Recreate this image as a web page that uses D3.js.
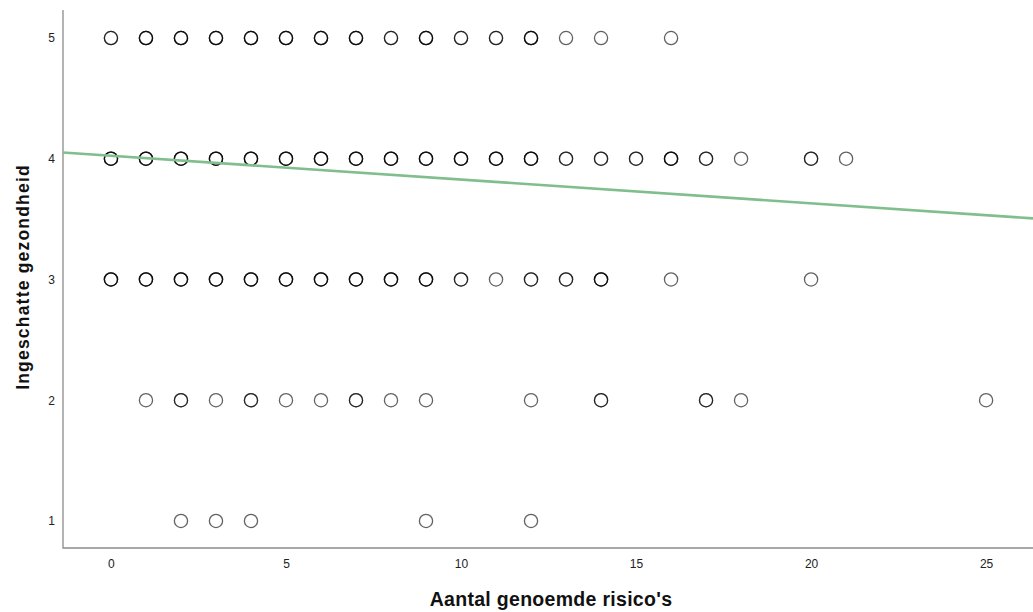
<!DOCTYPE html>
<html><head><meta charset="utf-8">
<script src="https://cdn.jsdelivr.net/npm/d3@7"></script>
<style>body{margin:0;background:#fff}svg{display:block}</style>
</head><body>
<script>
// Observations grouped by y level: x values and number of overlapping cases
const level5X = [0,1,2,3,4,5,6,7,8,9,10,11,12,13,14,16];
const level5N = [2,3,3,3,3,3,3,3,2,3,2,2,3,1,1,1];
const level4X = [0,1,2,3,4,5,6,7,8,9,10,11,12,13,14,15,16,17,18,20,21];
const level4N = [3,3,3,3,3,3,3,3,3,3,3,3,3,2,2,2,3,2,1,2,1];
const level3X = [0,1,2,3,4,5,6,7,8,9,10,11,12,13,14,16,20];
const level3N = [3,3,3,3,3,3,3,3,3,3,2,1,2,2,3,1,1];
const level2X = [1,2,3,4,5,6,7,8,9,12,14,17,18,25];
const level2N = [1,2,1,2,1,1,2,1,1,1,2,2,1,1];
const level1X = [2,3,4,9,12];
const level1N = [1,1,1,1,1];
const xTicks = [0,5,10,15,20,25];
const yTicks = [1,2,3,4,5];
const fitIntercept = 4.025, fitSlope = -0.0197;
const xTitle = "Aantal genoemde risico's";
const yTitle = "Ingeschatte gezondheid";

(function () {
const W = 1033, H = 612;
const mLeft = 63, mRight = 1033, mTop = 10, mBottom = 548;
const x = d3.scaleLinear().domain([-1.37, 26.34]).range([mLeft, mRight]);
const y = d3.scaleLinear().domain([0.776, 5.232]).range([mBottom, mTop]);
const ff = "'Liberation Sans', Arial, sans-serif";

const svg = d3.select("body").append("svg").attr("width", W).attr("height", H)
  .style("font-family", ff);

const levels = [[5, level5X, level5N],[4, level4X, level4N],[3, level3X, level3N],[2, level2X, level2N],[1, level1X, level1N]];
const pts = [];
levels.forEach(([lv, xs, ns]) => xs.forEach((v, i) => { for (let k = 0; k < ns[i]; k++) pts.push({x: v, y: lv}); }));

// axes
const gx = svg.append("g").attr("transform", `translate(0,${mBottom})`)
  .call(d3.axisBottom(x).tickValues(xTicks).tickSize(0).tickPadding(11).tickFormat(d3.format("d")));
gx.select(".domain").remove();
gx.selectAll("text").attr("font-size", 12).attr("fill", "#222").attr("font-family", ff);
const gy = svg.append("g").attr("transform", `translate(${mLeft},0)`)
  .call(d3.axisLeft(y).tickValues(yTicks).tickSize(0).tickPadding(8).tickFormat(d3.format("d")));
gy.select(".domain").remove();
gy.selectAll("text").attr("font-size", 12).attr("fill", "#222").attr("font-family", ff);

svg.append("path").attr("d", `M${mLeft},${mTop}V${mBottom}H${mRight}`)
  .attr("fill", "none").attr("stroke", "#8c8c8c").attr("stroke-width", 1.3);

// points
svg.append("g").selectAll("circle").data(pts).join("circle")
  .attr("cx", d => x(d.x)).attr("cy", d => y(d.y)).attr("r", 6.6)
  .attr("fill", "none").attr("stroke", "#000").attr("stroke-opacity", 0.62).attr("stroke-width", 1.3);

// fit line
const xd = x.domain();
svg.append("line")
  .attr("x1", x(xd[0])).attr("y1", y(fitIntercept + fitSlope * xd[0]))
  .attr("x2", x(xd[1])).attr("y2", y(fitIntercept + fitSlope * xd[1]))
  .attr("stroke", "#80be8e").attr("stroke-width", 2.6);

// titles
svg.append("text").attr("x", 551).attr("y", 606).attr("text-anchor", "middle")
  .attr("font-size", 19.5).attr("letter-spacing", 0.3).attr("font-weight", "bold").attr("fill", "#111").text(xTitle);
svg.append("text").attr("transform", "translate(28.5,277) rotate(-90)").attr("text-anchor", "middle")
  .attr("font-size", 17.5).attr("letter-spacing", 1.2).attr("font-weight", "bold").attr("fill", "#111").text(yTitle);
})();
</script>
</body></html>
